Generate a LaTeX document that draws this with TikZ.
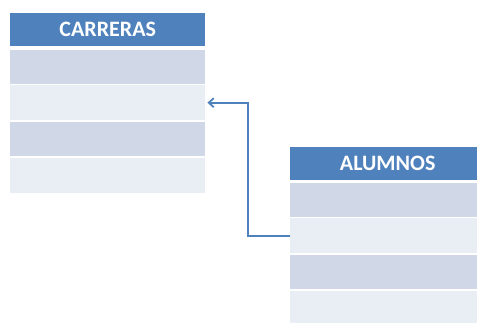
\documentclass[tikz,border=0pt]{standalone}
\usepackage{fontspec}
\setmainfont{Carlito}
\usetikzlibrary{arrows.meta}
\definecolor{hdrblue}{HTML}{4F81BD}
\definecolor{rowdark}{HTML}{D0D8E8}
\definecolor{rowlight}{HTML}{E9EDF4}
\begin{document}
\begin{tikzpicture}[x=1pt, y=-1pt,
    hdr/.style={fill=hdrblue, text=white, font=\bfseries\fontsize{22}{24}\selectfont,
      anchor=north west, minimum width=195pt, minimum height=33pt, inner sep=0pt},
    rowd/.style={fill=rowdark, anchor=north west, minimum width=195pt, minimum height=34pt, inner sep=0pt},
    rowl/.style={fill=rowlight, anchor=north west, minimum width=195pt, minimum height=35pt, inner sep=0pt},
    link/.style={draw=hdrblue, line width=1.8pt, -{Straight Barb[length=5pt,width=9pt]}}]
      \useasboundingbox (0, 0) rectangle (477, 322);
      \clip (0, 0) rectangle (477, 322);

      \node[hdr] (c0) at (10, 13) {CARRERAS};
      \node[rowd] (c1) at (10, 50) {};
      \node[rowl] (c2) at (10, 85) {};
      \node[rowd] (c3) at (10, 122) {};
      \node[rowl] (c4) at (10, 158) {};

      \node[hdr] (a0) at (290, 147) {ALUMNOS};
      \node[rowd] (a1) at (290, 183) {};
      \node[rowl] (a2) at (290, 218) {};
      \node[rowd] (a3) at (290, 255) {};
      \node[rowl] (a4) at (290, 291) {};

      \draw[link] (a2.west) -- ++(-42, 0) |- ([xshift=2pt]c2.east);
    \end{tikzpicture}
\end{document}
